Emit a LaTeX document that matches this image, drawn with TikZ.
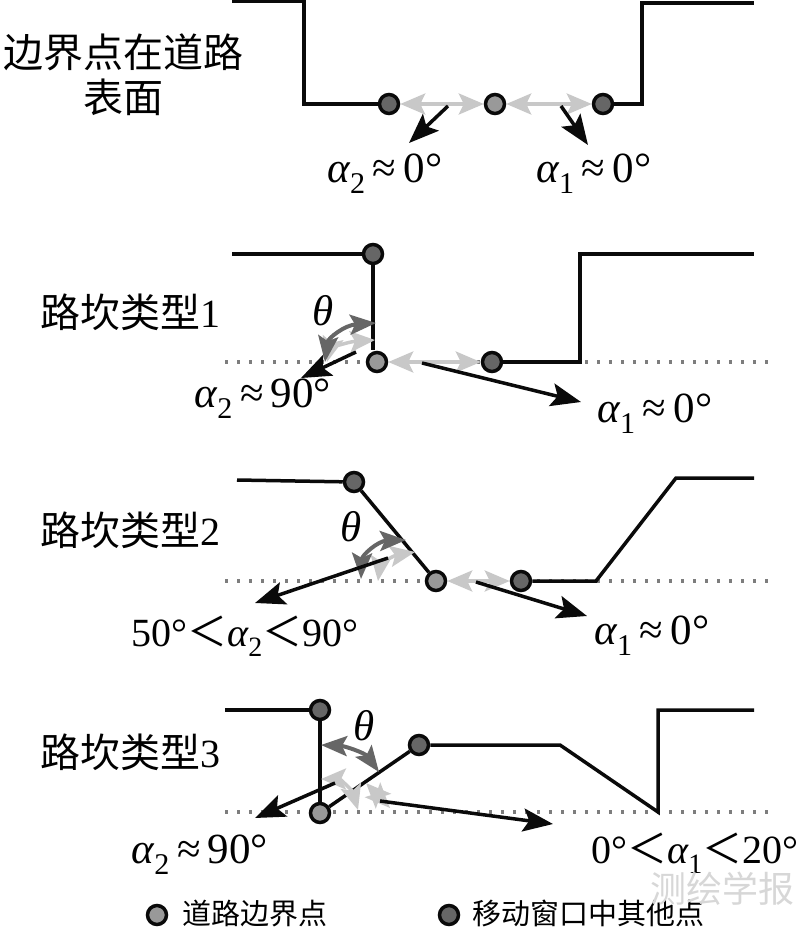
\documentclass[tikz,border=0pt]{standalone}
\usepackage{fontspec}
\setmainfont{Liberation Serif}
\newfontfamily\cjk{Noto Sans CJK SC}
\usetikzlibrary{arrows.meta,positioning}
\definecolor{rdInk}{RGB}{10,10,10}
\definecolor{rdDark}{RGB}{102,102,102}
\definecolor{rdMid}{RGB}{153,153,153}
\definecolor{rdLight}{RGB}{200,200,200}
\definecolor{rdMark}{RGB}{215,215,215}
\tikzset{
  roadline/.style={draw=rdInk,line width=3.5pt},
  guideline/.style={draw=rdDark!85,line width=3.4pt,dash pattern=on 3.4pt off 8.6pt},
  edgept/.style={circle,draw=rdInk,fill=rdMid,line width=3.5pt,inner sep=0pt,minimum size=19pt},
  otherpt/.style={edgept,fill=rdDark},
  blackarrow/.style={draw=rdInk,line width=3.5pt,-{Stealth[length=30pt,width=23pt,inset=6pt]}},
  lightarrow/.style={draw=rdLight,line width=3.5pt,{Stealth[length=25pt,width=21pt,inset=5pt]}-{Stealth[length=25pt,width=21pt,inset=5pt]}},
  darkarrow/.style={draw=rdDark,line width=4pt,{Stealth[length=26pt,width=20pt,inset=5pt]}-{Stealth[length=26pt,width=20pt,inset=5pt]}},
  caption/.style={font=\fontsize{40}{45}\selectfont\cjk,align=center,inner sep=0pt},
  angletext/.style={font=\fontsize{43}{48}\selectfont,inner sep=0pt},
  longtext/.style={font=\fontsize{40}{48}\selectfont,inner sep=0pt},
  legendtext/.style={font=\fontsize{29}{33}\selectfont\cjk,inner sep=0pt}
}
\newcommand{\alphaT}[1]{{\itshape α}\textsubscript{#1}}
\newcommand{\ltT}{{\cjk ＜}}
\begin{document}
\begin{tikzpicture}[x=1pt,y=-1pt]
  \useasboundingbox (0,0) rectangle (800,928);
  % no curb
  \coordinate (a1) at (232,1); \coordinate (a2) at (304,1); \coordinate (a3) at (304,104);
  \coordinate (a4) at (642,104); \coordinate (a5) at (642,3); \coordinate (a6) at (754,3);
  \node[otherpt] (aEdgeL) at (389,104) {};
  \node[edgept] (aCtr) at (495,104) {};
  \node[otherpt] (aEdgeR) at (603,104) {};
  \draw[roadline] (a1)--(a2)--(a3)--(aEdgeL);
  \draw[roadline] (aEdgeR)--(a4)--(a5)--(a6);
  \draw[lightarrow] (aEdgeL)--(aCtr);
  \draw[lightarrow] (aCtr)--(aEdgeR);
  \coordinate (aS2) at (448,106); \coordinate (aE2) at (409,143);
  \coordinate (aS1) at (561,106); \coordinate (aE1) at (588,145);
  \draw[blackarrow] (aS2)--(aE2);
  \draw[blackarrow] (aS1)--(aE1);
  \node[caption] (aTitle) at (123,75) {边界点在道路\\表面};
  \node[angletext] (aA2) at (385,174) {\alphaT{2}\,≈\,0°};
  \node[angletext] (aA1) at (594,174) {\alphaT{1}\,≈\,0°};

  % type 1
  \coordinate (bG1) at (225,362); \coordinate (bG2) at (770,362);
  \draw[guideline] (bG1)--(bG2);
  \coordinate (b1) at (232,254); \coordinate (b2) at (580,362);
  \coordinate (b3) at (580,254); \coordinate (b4) at (754,254);
  \coordinate (bFoot) at (373,350);
  \node[otherpt] (bTop) at (373,254) {};
  \node[edgept] (bCtr) at (377,362) {};
  \node[otherpt] (bOth) at (492,362) {};
  \draw[roadline] (b1)--(bTop);
  \draw[roadline] (bTop)--(bFoot);
  \draw[roadline] (bOth)--(b2)--(b3)--(b4);
  \draw[lightarrow] (bCtr)--(bOth);
  \coordinate (bLi1) at (327,362); \coordinate (bLi2) at (375,340);
  \draw[lightarrow] (bLi1) .. controls (330,350) and (345,342) .. (bLi2);
  \coordinate (bDa1) at (325,362); \coordinate (bDa2) at (376,323);
  \draw[darkarrow] (bDa1) .. controls (328,338) and (345,325) .. (bDa2);
  \coordinate (bS2) at (356,352); \coordinate (bE2) at (301,378);
  \coordinate (bS1) at (422,363); \coordinate (bE1) at (581,402);
  \draw[blackarrow] (bS2)--(bE2);
  \draw[blackarrow] (bS1)--(bE1);
  \node[caption] (bTitle) at (130,312) {路坎类型{\rmfamily 1}};
  \node[angletext] (bTh) at (323,311) {\itshape θ};
  \node[angletext] (bA2) at (263,399) {\alphaT{2}\,≈\,90°};
  \node[angletext] (bA1) at (655,414) {\alphaT{1}\,≈\,0°};

  % type 2
  \coordinate (cG1) at (225,581); \coordinate (cG2) at (770,581);
  \draw[guideline] (cG1)--(cG2);
  \coordinate (c1) at (237,480); \coordinate (c2) at (596,581);
  \coordinate (c3) at (676,478); \coordinate (c4) at (754,478);
  \node[otherpt] (cTop) at (354,482) {};
  \node[edgept] (cCtr) at (436,581) {};
  \node[otherpt] (cOth) at (521,581) {};
  \draw[roadline] (c1)--(cTop);
  \draw[roadline] (cTop)--(cCtr);
  \draw[roadline] (cOth)--(c2)--(c3)--(c4);
  \draw[lightarrow] (cCtr)--(cOth);
  \coordinate (cLi1) at (378,581); \coordinate (cLi2) at (415,552);
  \draw[lightarrow] (cLi1) .. controls (380,565) and (392,556) .. (cLi2);
  \coordinate (cDa1) at (361,579); \coordinate (cDa2) at (406,540);
  \draw[darkarrow] (cDa1) .. controls (362,555) and (378,541) .. (cDa2);
  \coordinate (cS2) at (388,558); \coordinate (cE2) at (255,603);
  \coordinate (cS1) at (476,582); \coordinate (cE1) at (587,616);
  \draw[blackarrow] (cS2)--(cE2);
  \draw[blackarrow] (cS1)--(cE1);
  \node[caption] (cTitle) at (130,530) {路坎类型{\rmfamily 2}};
  \node[angletext] (cTh) at (351,527) {\itshape θ};
  \node[longtext] (cA2) at (245,636) {50°\ltT\alphaT{2}\ltT 90°};
  \node[angletext] (cA1) at (652,636) {\alphaT{1}\,≈\,0°};

  % type 3
  \coordinate (dG1) at (225,812); \coordinate (dG2) at (770,812);
  \draw[guideline] (dG1)--(dG2);
  \coordinate (d1) at (225,710); \coordinate (d2) at (560,745); \coordinate (d3) at (658,812);
  \coordinate (d4) at (658,710); \coordinate (d5) at (754,710);
  \node[otherpt] (dTop) at (320,710) {};
  \node[edgept] (dCtr) at (320,813) {};
  \node[otherpt] (dOth) at (419,745) {};
  \draw[roadline] (d1)--(dTop);
  \draw[roadline] (dTop)--(dCtr);
  \draw[roadline] (dCtr)--(dOth);
  \draw[roadline] (dOth)--(d2)--(d3)--(d4)--(d5);
  \coordinate (dLi1) at (321,779); \coordinate (dLi2) at (358,810);
  \draw[lightarrow] (dLi1) .. controls (340,779) and (352,790) .. (dLi2);
  \coordinate (dLi3) at (366,783); \coordinate (dLi4) at (390,808);
  \draw[lightarrow] (dLi3)--(dLi4);
  \coordinate (dDa1) at (321,745); \coordinate (dDa2) at (379,772);
  \draw[darkarrow] (dDa1) .. controls (345,746) and (365,753) .. (dDa2);
  \coordinate (dS2) at (335,783); \coordinate (dE2) at (255,818);
  \coordinate (dS1) at (380,801); \coordinate (dE1) at (553,824);
  \draw[blackarrow] (dS2)--(dE2);
  \draw[blackarrow] (dS1)--(dE1);
  \node[caption] (dTitle) at (130,752) {路坎类型{\rmfamily 3}};
  \node[angletext] (dTh) at (364,726) {\itshape θ};
  \node[angletext] (dA2) at (200,855) {\alphaT{2}\,≈\,90°};
  \node[longtext] (dA1) at (695,853) {0°\ltT\alphaT{1}\ltT 20°};

  % legend
  \node[edgept] (keyEdge) at (157,915) {};
  \node[legendtext,right=14pt of keyEdge,yshift=1.5pt] (keyEdgeT) {道路边界点};
  \node[otherpt] (keyOth) at (449,915) {};
  \node[legendtext,right=12pt of keyOth,yshift=1.5pt] (keyOthT) {移动窗口中其他点};
  \node[font=\fontsize{36}{40}\selectfont\cjk,text=rdMark,inner sep=0pt] (markT) at (722,889) {测绘学报};
\end{tikzpicture}
\end{document}
